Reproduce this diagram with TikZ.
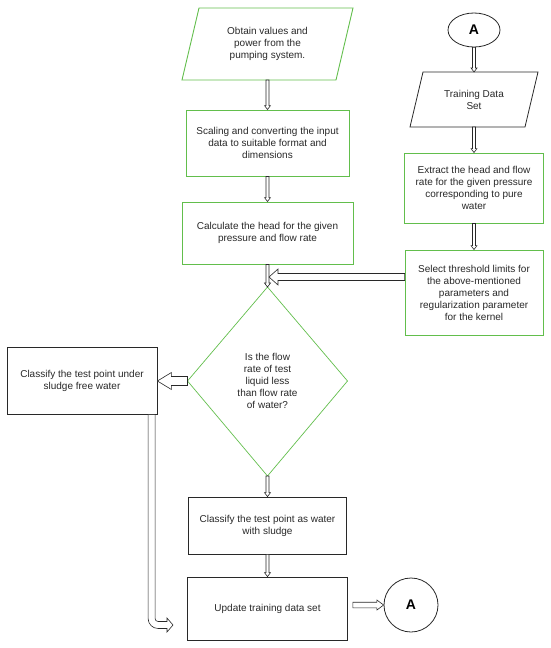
\documentclass[tikz,border=0pt]{standalone}
\usepackage{fontspec}
\setmainfont{Liberation Sans}
\usetikzlibrary{calc,shapes.geometric}
\definecolor{gr}{RGB}{98,190,76}
\definecolor{dk}{RGB}{40,40,40}
\tikzset{
  txt/.style={align=center, font=\fontsize{10}{12}\selectfont, text=dk, inner sep=0pt},
  gbox/.style={txt, draw=gr, line width=0.9pt},
  bbox/.style={txt, draw=dk, line width=0.8pt},
  cbox/.style={draw=dk, line width=0.8pt, font=\bfseries\fontsize{14}{16}\selectfont, text=black, inner sep=0pt},
  gline/.style={draw=gr, line width=0.9pt, line join=miter},
  gthin/.style={draw=gr, line width=0.7pt},
  bline/.style={draw=dk, line width=0.8pt},
  hol/.style={draw=dk, fill=white, line width=0.6pt, line join=miter},
}
% vertical hollow arrow pointing down: from, to, stem half width, head half width, head length
\newcommand\vhol[5]{\draw[hol] ($(#1)+(-#3,0)$) -- ($(#2)+(-#3,-#5)$) -- ($(#2)+(-#4,-#5)$) -- (#2) -- ($(#2)+(#4,-#5)$) -- ($(#2)+(#3,-#5)$) -- ($(#1)+(#3,0)$) -- cycle;}
% horizontal hollow arrow: from, to, stem half width, head half width, head offset (+ left-pointing, - right-pointing)
\newcommand\hhol[5]{\draw[hol] ($(#1)+(0,-#3)$) -- ($(#2)+(#5,-#3)$) -- ($(#2)+(#5,-#4)$) -- (#2) -- ($(#2)+(#5,#4)$) -- ($(#2)+(#5,#3)$) -- ($(#1)+(0,#3)$) -- cycle;}
\begin{document}
\begin{tikzpicture}[x=1pt,y=-1pt]
\useasboundingbox (0,0) rectangle (550,648);

% left/main column
\node[txt] (obt) at (267.5,44) {Obtain values and\\power from the\\pumping system.};
\draw[gline] ($(obt)+(-68.5,-36)$) -- ($(obt)+(85.5,-36)$) -- ($(obt)+(68.5,36)$) -- ($(obt)+(-85.5,36)$) -- cycle;
\coordinate (obtb) at ($(obt)+(0,36)$);

\node[gbox, minimum width=163pt, minimum height=66pt] (scl) at (267.5,143) {Scaling and converting the input\\data to suitable format and\\dimensions};
\node[gbox, minimum width=171pt, minimum height=62pt] (hd) at (267.5,233) {Calculate the head for the given\\pressure and flow rate};

\node[txt] (dec) at (267.5,381) {Is the flow\\rate of test\\liquid less\\than flow rate\\of water?};
\coordinate (dt) at ($(dec)+(0,-94)$);
\coordinate (dr) at ($(dec)+(80,0)$);
\coordinate (db) at ($(dec)+(0,95)$);
\coordinate (dl) at ($(dec)+(-80,0)$);
\draw[gthin] (dt) -- (dr) -- (db) -- (dl) -- cycle;

\node[bbox, minimum width=150pt, minimum height=67pt] (sf) at (82,381) {Classify the test point under\\sludge free water};
\node[bbox, minimum width=158pt, minimum height=57pt] (wsl) at (267.5,525.5) {Classify the test point as water\\with sludge};
\node[bbox, minimum width=160pt, minimum height=63pt] (upd) at (267.5,608.5) {Update training data set};
\node[cbox, circle, minimum size=54pt] (a2) at (411,605) {A};

% right column
\node[cbox, ellipse, minimum width=52pt, minimum height=34pt] (a1) at (474,30) {A};
\node[txt] (trn) at (474,99.5) {Training Data\\Set};
\draw[bline, line join=miter] ($(trn)+(-51,-27.5)$) -- ($(trn)+(64,-27.5)$) -- ($(trn)+(51,27.5)$) -- ($(trn)+(-64,27.5)$) -- cycle;
\coordinate (trnt) at ($(trn)+(0,-27.5)$);
\coordinate (trnb) at ($(trn)+(0,27.5)$);
\node[gbox, minimum width=139pt, minimum height=70pt] (ext) at (474,188) {Extract the head and flow\\rate for the given pressure\\corresponding to pure\\water};
\node[gbox, minimum width=138pt, minimum height=85pt] (sel) at (474,292.5) {Select threshold limits for\\the above-mentioned\\parameters and\\regularization parameter\\for the kernel};

% small vertical arrows
\vhol{obtb}{scl.north}{1.5}{3}{4}
\vhol{scl.south}{hd.north}{1.5}{3}{4}
\vhol{hd.south}{dt}{1.5}{3}{4}
\vhol{db}{wsl.north}{1.5}{3}{4}
\vhol{wsl.south}{upd.north}{1.5}{3}{4}
\vhol{a1.south}{trnt}{1.5}{3}{4}
\vhol{trnb}{ext.north}{1.5}{3}{4}
\vhol{ext.south}{sel.north}{1.5}{3}{4}

% big horizontal arrows
\coordinate (s1) at ($(sel.west)+(0,-15.5)$);
\coordinate (s2) at ($(s1 -| hd.south)+(1.5,0)$);
\hhol{s1}{s2}{3.5}{8}{9}
\hhol{dl}{sf.east}{4.5}{8.5}{14}
\coordinate (u1) at ($(upd.east |- a2.west)+(5,0)$);
\hhol{u1}{a2.west}{2.8}{5}{-6.7}

% pipe from left box down and right
\coordinate (pipetop) at ($(sf.south east)+(-5.8,0)$);
\coordinate (pipetip) at (173,625);
\draw[hol] ($(pipetop)+(-3.5,0)$) [rounded corners=10pt] -- ($(pipetop |- pipetip)+(-3.5,3.5)$) [sharp corners] -- ($(pipetip)+(-6,3.5)$) -- ($(pipetip)+(-6,7)$) -- (pipetip) -- ($(pipetip)+(-6,-7)$) -- ($(pipetip)+(-6,-3.5)$) [rounded corners=3pt] -- ($(pipetop |- pipetip)+(3.5,-3.5)$) [sharp corners] -- ($(pipetop)+(3.5,0)$);
\end{tikzpicture}
\end{document}
